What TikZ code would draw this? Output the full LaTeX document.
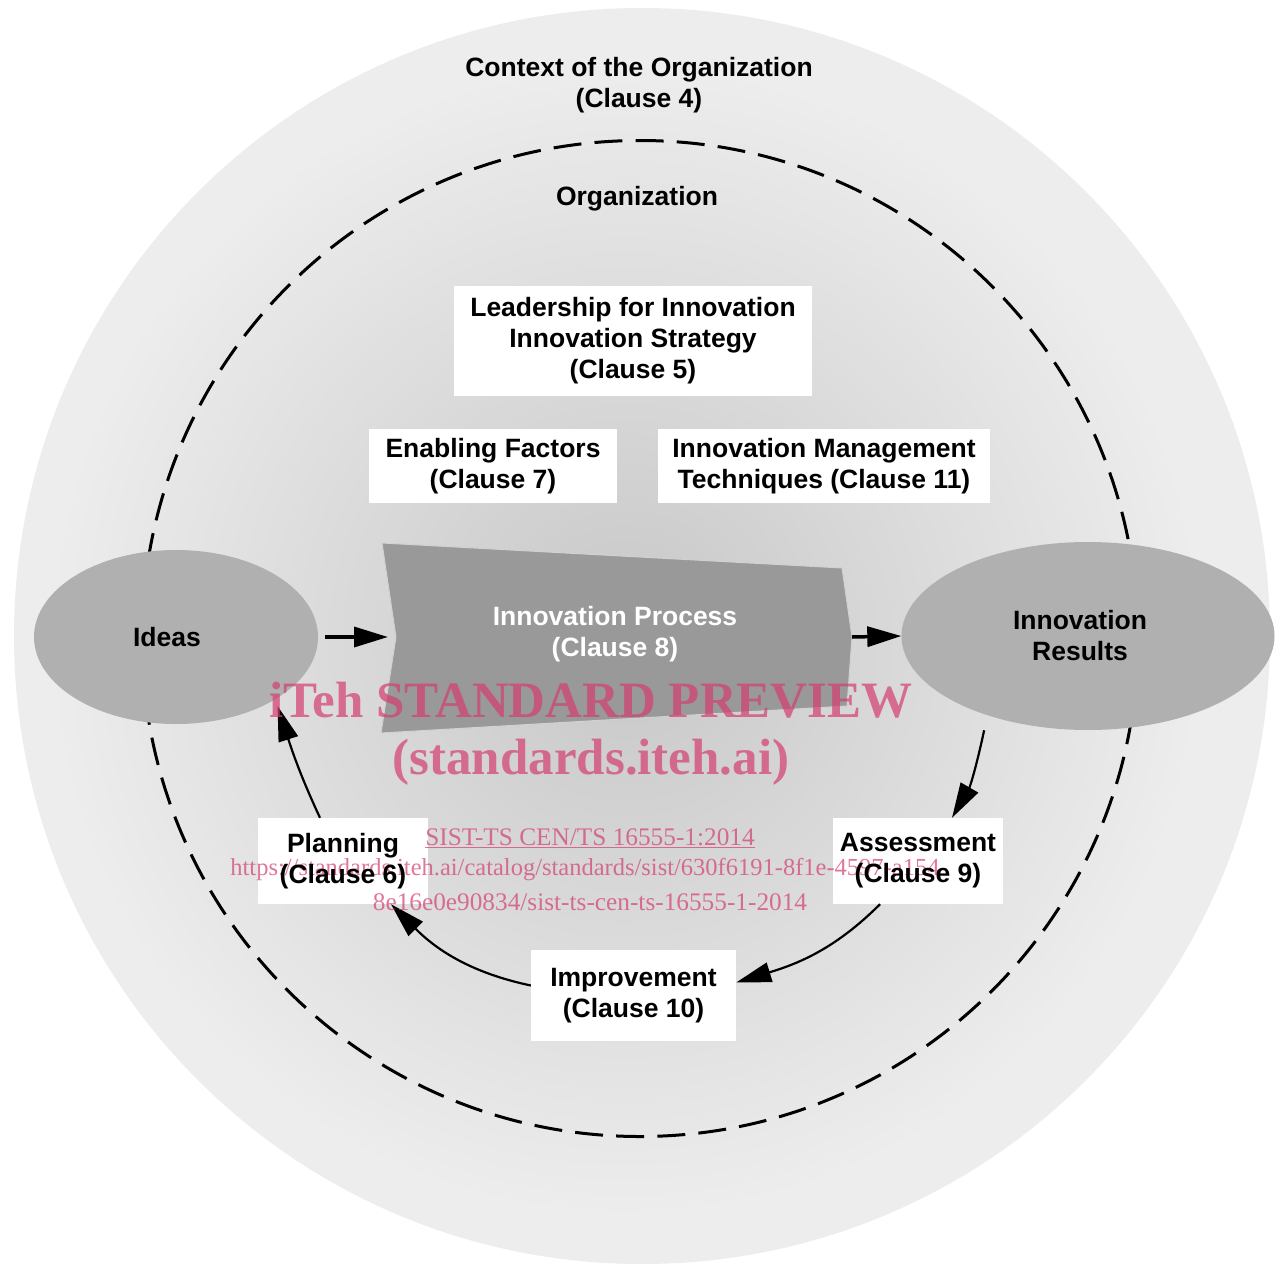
\documentclass[tikz,border=0pt]{standalone}
\usepackage{fontspec}
\setmainfont{Liberation Sans}
\newfontfamily\wmfont{Liberation Serif}
\usetikzlibrary{arrows.meta,shapes.geometric,calc}
\definecolor{wm}{RGB}{212,62,112}
\pgfdeclarelayer{bg}
\pgfdeclarelayer{wml}
\pgfsetlayers{bg,wml,main}
\tikzset{
  lbl/.style={font=\bfseries\fontsize{26.5}{31}\selectfont, align=center, inner sep=0pt},
  wbox/.style={lbl},
  boxfill/.style={fill=white},
  ell/.style={ellipse, fill=black!31, lbl},
  bigarr/.style={line width=3.5pt, -{Triangle[length=34pt,width=20pt]}},
  cyc/.style={line width=2.2pt, -{Triangle[length=35pt,width=20pt]}},
  dashc/.style={line width=3pt, dash pattern=on 28pt off 13.17pt, dash phase=4pt},
  wmbig/.style={text=wm, text opacity=0.7, inner sep=0pt, font=\wmfont\bfseries\fontsize{51}{60}\selectfont},
  wmsmall/.style={text=wm, text opacity=0.7, inner sep=0pt, font=\wmfont\fontsize{25.3}{32}\selectfont}
}
\begin{document}
\begin{tikzpicture}[x=1pt,y=-1pt]
\useasboundingbox (0,0) rectangle (1284,1263);
\begin{pgfonlayer}{bg}
\fill[white] (0,0) rectangle (1284,1263);
% outer context circle
\coordinate (oc) at (642,636);
\fill[black!7] (oc) circle[radius=628];
\shade[inner color=black!22, outer color=black!7] (625,640) circle[radius=580];
% organization dashed circle
\coordinate (dc) at (640,638.5);
\draw[dashc] (dc) ++(0:498) arc[start angle=0, delta angle=360, radius=498];
% ellipses
\node[ell, minimum width=284pt, minimum height=174pt] (ideas) at (176,637) {Ideas\hspace*{18pt}};
\node[ell, minimum width=373pt, minimum height=188pt] (results) at (1088,636) {Innovation\hspace*{16pt}\\Results\hspace*{16pt}};
% innovation process shape
\coordinate (p1) at (382,543);
\coordinate (p2) at (842,568);
\coordinate (pout) at (852,637);
\coordinate (p4) at (847,706);
\coordinate (p5) at (381,733);
\coordinate (pin) at (396,637);
\filldraw[fill=black!40, draw=black!18, line width=1pt] (p1) -- (p2) -- (pout) -- (p4) -- (p5) -- (pin) -- cycle;
\node[lbl, text=white] (proc) at (615,634) {Innovation Process\\(Clause 8)};
% straight arrows
\draw[bigarr, shorten <=7pt, shorten >=8pt] (ideas.east) -- (pin);
\draw[bigarr] (pout) -- (results.west);
\end{pgfonlayer}
% text boxes (texts on top)
\node[wbox, minimum width=358pt, minimum height=110pt] (lead) at (633,341) {Leadership for Innovation\\Innovation Strategy\\(Clause 5)};
\node[wbox, minimum width=248pt, minimum height=74pt] (enab) at (493,466) {Enabling Factors\\(Clause 7)};
\node[wbox, minimum width=332pt, minimum height=74pt] (imt) at (824,466) {Innovation Management\\Techniques (Clause 11)};
\node[wbox, minimum width=170pt, minimum height=86pt] (plan) at (343,861) {Planning\\(Clause 6)};
\node[wbox, minimum width=170pt, minimum height=86pt] (assess) at (918,861) {Assessment\\(Clause 9)};
\node[wbox, minimum width=205pt, minimum height=91pt] (impr) at (633.5,995.5) {Improvement\\(Clause 10)};
% free texts
\node[lbl] (ctx) at (639,85.5) {Context of the Organization\\(Clause 4)};
\node[lbl] (org) at (637,199) {Organization};
\begin{pgfonlayer}{bg}
% white box backgrounds
\fill[boxfill] (lead.south west) rectangle (lead.north east);
\fill[boxfill] (enab.south west) rectangle (enab.north east);
\fill[boxfill] (imt.south west) rectangle (imt.north east);
\fill[boxfill] (plan.south west) rectangle (plan.north east);
\fill[boxfill] (assess.south west) rectangle (assess.north east);
\fill[boxfill] (impr.south west) rectangle (impr.north east);
% cycle arrows
\draw[cyc] ([yshift=-16pt]results.217) to[out=258,in=60] ([xshift=34pt]assess.north);
\draw[cyc] ([xshift=-38pt]assess.south) to[out=225,in=17] ([yshift=13pt]impr.east);
\draw[cyc] ([yshift=10pt]impr.west) to[out=168,in=315] ([xshift=48pt]plan.south);
\draw[cyc] ([xshift=-23pt]plan.north) to[out=115,in=288] ([yshift=-8pt]ideas.329);
\end{pgfonlayer}
% watermark
\begin{pgfonlayer}{wml}
\node[wmbig] (wm1) at (591,700) {iTeh STANDARD PREVIEW};
\node[wmbig] (wm2) at (591,762) {(standards.iteh.ai)};
\node[wmsmall] (wm3) at (590,838) {\underline{SIST-TS CEN/TS 16555-1:2014}};
\node[wmsmall, font=\wmfont\fontsize{24.5}{32}\selectfont] (wm4) at (589,870) {https://standards.iteh.ai/catalog/standards/sist/630f6191-8f1e-4597-a154-};
\node[wmsmall] (wm5) at (590,902) {8e16e0e90834/sist-ts-cen-ts-16555-1-2014};
\end{pgfonlayer}
\end{tikzpicture}
\end{document}
